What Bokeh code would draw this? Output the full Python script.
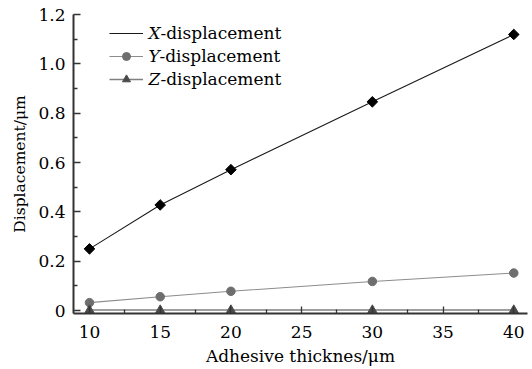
import numpy as np
from bokeh.plotting import figure
from bokeh.models import (FixedTicker, PrintfTickFormatter, Legend, LegendItem,
                          Label, Range1d)
from bokeh.embed import file_html
from bokeh.resources import INLINE

# ---- data ----
thickness = [10, 15, 20, 30, 40]
x_disp = [0.25, 0.428, 0.571, 0.846, 1.119]
y_disp = [0.032, 0.056, 0.078, 0.118, 0.152]
z_disp = [0.002, 0.002, 0.002, 0.002, 0.002]
series_letters = ["X", "Y", "Z"]
series_rest = "-displacement"

x_ticks = [10, 15, 20, 25, 30, 35, 40]
x_minor = [12.5, 17.5, 22.5, 27.5, 32.5, 37.5]
y_ticks = [0, 0.2, 0.4, 0.6, 0.8, 1.0, 1.2]
y_minor = [0.1, 0.3, 0.5, 0.7, 0.9, 1.1]

FONT = "DejaVu Serif"
TXT = "#000000"

p = figure(frame_width=454, frame_height=299,
           min_border_left=73, min_border_right=4, min_border_top=14,
           min_border_bottom=40,
           x_range=Range1d(8.87, 40.97), y_range=Range1d(-0.012, 1.2),
           output_backend="svg", toolbar_location=None,
           background_fill_color="white", border_fill_color="white")
p.outline_line_color = None
p.grid.visible = False

# series
lx = p.line(thickness, x_disp, line_color="#1a1a1a", line_width=1.1)
mx = p.scatter(thickness, x_disp, marker="square", size=7.5, angle=np.pi / 4,
               fill_color="black", line_color="black")
ly = p.line(thickness, y_disp, line_color="#8c8c8c", line_width=1.1)
my = p.scatter(thickness, y_disp, marker="circle", size=8.5,
               fill_color="#6e6e6e", line_color="#6e6e6e")
lz = p.line(thickness, z_disp, line_color="#808080", line_width=1.6)
mz = p.scatter(thickness, z_disp, marker="triangle", size=9,
               fill_color="#4a4a4a", line_color="#4a4a4a")
# legend-only sample for the diamond (legend does not rotate markers)
mx_leg = p.scatter([], [], marker="diamond", size=10,
                   fill_color="black", line_color="black")

# axes
for ax in (p.xaxis[0], p.yaxis[0]):
    ax.axis_line_width = 2
    ax.axis_line_color = "#333333"
    ax.major_tick_line_color = "#333333"
    ax.minor_tick_line_color = "#333333"
    ax.major_tick_line_width = 1.3
    ax.minor_tick_line_width = 1.3
    ax.major_tick_in = 7
    ax.major_tick_out = 0
    ax.minor_tick_in = 4
    ax.minor_tick_out = 0
    ax.major_label_text_font = FONT
    ax.major_label_text_font_size = "17px"
    ax.major_label_text_color = TXT
    ax.axis_label_text_font = FONT
    ax.axis_label_text_font_style = "normal"
    ax.axis_label_text_color = TXT

p.xaxis[0].axis_label_text_font_size = "17px"
p.yaxis[0].axis_label_text_font_size = "15.5px"
p.xaxis[0].ticker = FixedTicker(ticks=x_ticks, minor_ticks=x_minor)
p.yaxis[0].ticker = FixedTicker(ticks=y_ticks, minor_ticks=y_minor)
p.yaxis[0].formatter = PrintfTickFormatter(format="%.1f")
p.yaxis[0].major_label_overrides = {0: "0"}
p.xaxis[0].axis_label = "Adhesive thicknes/μm"
p.yaxis[0].axis_label = "Displacement/μm"
p.xaxis[0].major_label_standoff = 12
p.xaxis[0].axis_label_standoff = 5
p.yaxis[0].major_label_standoff = 8
p.yaxis[0].axis_label_standoff = 6

# legend (glyph samples; text drawn as overlay labels for mixed italics)
items = [LegendItem(label=l + series_rest, renderers=r)
         for l, r in zip(series_letters, [[lx, mx_leg], [ly, my], [lz, mz]])]
leg = Legend(items=items, location=(36, 224), padding=0, margin=0,
             glyph_width=34, glyph_height=20, label_height=20, spacing=3,
             label_standoff=5, label_text_alpha=0,
             label_text_font=FONT, label_text_font_size="17px",
             background_fill_alpha=0, border_line_color=None)
p.add_layout(leg)

row_y = [1.123, 1.030, 0.937]
letter_w = [12, 11, 12]
for letter, yy, w in zip(series_letters, row_y, letter_w):
    p.add_layout(Label(x=14.17, y=yy, text=letter, text_font=FONT,
                       text_font_size="17px", text_font_style="italic",
                       text_baseline="middle", text_color=TXT))
    p.add_layout(Label(x=14.17, y=yy, x_offset=w, text=series_rest,
                       text_font=FONT, text_font_size="17px",
                       text_baseline="middle", text_color=TXT))

open("out.html", "w").write(file_html(p, INLINE))
